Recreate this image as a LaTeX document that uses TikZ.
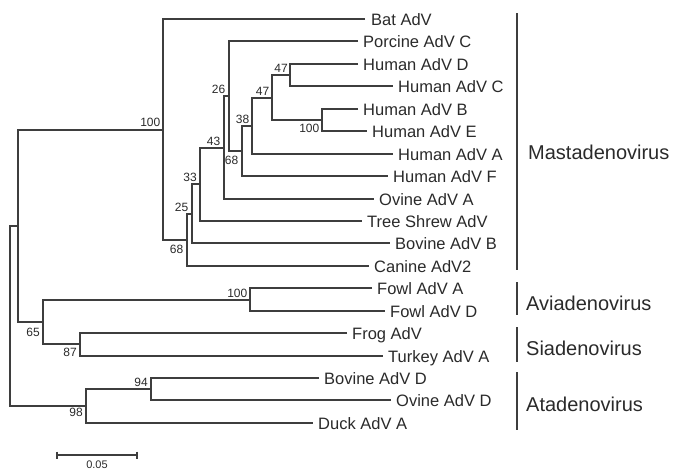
\documentclass[tikz,border=0pt]{standalone}
\usepackage{fontspec}
\setmainfont{Liberation Sans}
\definecolor{ln}{HTML}{3E3E3E}
\definecolor{tx}{HTML}{2A2A2A}
\begin{document}
\begin{tikzpicture}[x=1pt,y=-1pt,
  br/.style={draw=ln, line width=1.8pt},
  leaf/.style={font=\fontsize{16.5}{18}\selectfont, text=tx, inner sep=0pt, anchor=base west},
  bsa/.style={font=\fontsize{12}{13}\selectfont, text=tx, inner sep=0.5pt, anchor=south east},
  bsb/.style={font=\fontsize{12}{13}\selectfont, text=tx, inner sep=0.5pt, anchor=north east},
  grp/.style={font=\fontsize{20}{22}\selectfont, text=tx, inner sep=0pt, anchor=base west}]
\useasboundingbox (0,0) rectangle (674,469);
% leaf ends
\coordinate (bat) at (365,19);
\coordinate (porc) at (358,41);
\coordinate (hd) at (358,64);
\coordinate (hc) at (393,86);
\coordinate (hb) at (358,109);
\coordinate (he) at (367,131);
\coordinate (ha) at (393,154);
\coordinate (hf) at (388,176);
\coordinate (ova) at (374,199);
\coordinate (tree) at (362,221);
\coordinate (bovb) at (390,243);
\coordinate (can) at (369,266);
\coordinate (fwa) at (372,288);
\coordinate (fwd) at (385,311);
\coordinate (frog) at (347,333);
\coordinate (turk) at (383,356);
\coordinate (bovd) at (319,378);
\coordinate (ovd) at (391,400);
\coordinate (duck) at (313,423);
% internal nodes
\coordinate (nHbe) at (322,120);
\coordinate (nHdc) at (290,75);
\coordinate (nH47) at (272,98);
\coordinate (n38) at (252,126);
\coordinate (n68a) at (242,151);
\coordinate (n26) at (229,96);
\coordinate (n43) at (224,148);
\coordinate (n33) at (200,184);
\coordinate (n25) at (192,214);
\coordinate (n68b) at (187,240);
\coordinate (nMast) at (163,130);
\coordinate (nFowl) at (250,300);
\coordinate (nSia) at (80,344);
\coordinate (nAS) at (43,322);
\coordinate (nUp) at (18,226);
\coordinate (n94) at (151,389);
\coordinate (nAta) at (86,406);
\coordinate (root) at (10,316);
% branches
\draw[br] (hd) -| (nHdc) |- (hc);
\draw[br] (hb) -| (nHbe) |- (he);
\draw[br] (nHdc) -| (nH47) |- (nHbe);
\draw[br] (nH47) -| (n38) |- (ha);
\draw[br] (n38) -| (n68a) |- (hf);
\draw[br] (porc) -| (n26) |- (n68a);
\draw[br] (n26) -| (n43) |- (ova);
\draw[br] (n43) -| (n33) |- (tree);
\draw[br] (n33) -| (n25) |- (bovb);
\draw[br] (n25) -| (n68b) |- (can);
\draw[br] (bat) -| (nMast) |- (n68b);
\draw[br] (fwa) -| (nFowl) |- (fwd);
\draw[br] (frog) -| (nSia) |- (turk);
\draw[br] (nFowl) -| (nAS) |- (nSia);
\draw[br] (nMast) -| (nUp) |- (nAS);
\draw[br] (bovd) -| (n94) |- (ovd);
\draw[br] (n94) -| (nAta) |- (duck);
\draw[br] (nUp) -| (root) |- (nAta);
% bootstrap values
\node[bsa] (bMast) at ([shift={(-2pt,2.5pt)}]nMast) {100};
\node[bsa] (bHdc) at ([shift={(-1.5pt,2pt)}]nHdc) {47};
\node[bsa] (bH47) at ([shift={(-2pt,2pt)}]nH47) {47};
\node[bsb] (bHbe) at ([shift={(-2pt,-3pt)}]nHbe) {100};
\node[bsa] (b38) at ([shift={(-2pt,2pt)}]n38) {38};
\node[bsb] (b68a) at ([shift={(-3pt,-4.5pt)}]n68a) {68};
\node[bsa] (b26) at ([shift={(-3pt,2pt)}]n26) {26};
\node[bsa] (b43) at ([shift={(-3pt,2pt)}]n43) {43};
\node[bsa] (b33) at ([shift={(-2.5pt,2pt)}]n33) {33};
\node[bsa] (b25) at ([shift={(-3pt,2pt)}]n25) {25};
\node[bsb] (b68b) at ([shift={(-3pt,-4pt)}]n68b) {68};
\node[bsa] (bFowl) at ([shift={(-2pt,2pt)}]nFowl) {100};
\node[bsb] (bAS) at ([shift={(-2.5pt,-5pt)}]nAS) {65};
\node[bsb] (bSia) at ([shift={(-2.5pt,-3.5pt)}]nSia) {87};
\node[bsa] (b94) at ([shift={(-2.5pt,2pt)}]n94) {94};
\node[bsb] (bAta) at ([shift={(-2.5pt,-1pt)}]nAta) {98};
% leaf labels
\node[leaf] (lbat) at ([shift={(6pt,-6pt)}]bat) {Bat AdV};
\node[leaf] (lporc) at ([shift={(5pt,-6pt)}]porc) {Porcine AdV C};
\node[leaf] (lhd) at ([shift={(5pt,-6pt)}]hd) {Human AdV D};
\node[leaf] (lhc) at ([shift={(5pt,-6pt)}]hc) {Human AdV C};
\node[leaf] (lhb) at ([shift={(5pt,-6pt)}]hb) {Human AdV B};
\node[leaf] (lhe) at ([shift={(5pt,-6pt)}]he) {Human AdV E};
\node[leaf] (lha) at ([shift={(5pt,-6pt)}]ha) {Human AdV A};
\node[leaf] (lhf) at ([shift={(5pt,-6pt)}]hf) {Human AdV F};
\node[leaf] (lova) at ([shift={(5pt,-6pt)}]ova) {Ovine AdV A};
\node[leaf] (ltree) at ([shift={(5pt,-6pt)}]tree) {Tree Shrew AdV};
\node[leaf] (lbovb) at ([shift={(5pt,-6pt)}]bovb) {Bovine AdV B};
\node[leaf] (lcan) at ([shift={(5pt,-6pt)}]can) {Canine AdV2};
\node[leaf] (lfwa) at ([shift={(5pt,-6pt)}]fwa) {Fowl AdV A};
\node[leaf] (lfwd) at ([shift={(5pt,-6pt)}]fwd) {Fowl AdV D};
\node[leaf] (lfrog) at ([shift={(5pt,-6pt)}]frog) {Frog AdV};
\node[leaf] (lturk) at ([shift={(5pt,-6pt)}]turk) {Turkey AdV A};
\node[leaf] (lbovd) at ([shift={(5pt,-6pt)}]bovd) {Bovine AdV D};
\node[leaf] (lovd) at ([shift={(5pt,-6pt)}]ovd) {Ovine AdV D};
\node[leaf] (lduck) at ([shift={(5pt,-6pt)}]duck) {Duck AdV A};
% group bars and names
\coordinate (mT) at (517,13);
\coordinate (mB) at (517,270);
\coordinate (aT) at (517,282);
\coordinate (aB) at (517,315);
\coordinate (sT) at (517,327);
\coordinate (sB) at (517,362);
\coordinate (tT) at (517,372);
\coordinate (tB) at (517,430);
\draw[br] (mT) -- (mB);
\draw[br] (aT) -- (aB);
\draw[br] (sT) -- (sB);
\draw[br] (tT) -- (tB);
\node[grp] (gM) at (528,159) {Mastadenovirus};
\node[grp] (gA) at (526,310) {Aviadenovirus};
\node[grp] (gS) at (526,355) {Siadenovirus};
\node[grp] (gT) at (526,411) {Atadenovirus};
% scale bar
\coordinate (sL) at (57,455);
\coordinate (sR) at (137,455);
\draw[br, line width=1.4pt] (sL) -- (sR);
\draw[br, line width=1.4pt] ([yshift=3.5pt]sL) -- ([yshift=-3.5pt]sL);
\draw[br, line width=1.4pt] ([yshift=3.5pt]sR) -- ([yshift=-3.5pt]sR);
\node[font=\fontsize{11}{12}\selectfont, text=tx, inner sep=0pt, anchor=base] (sLab) at (97,468) {0.05};
\end{tikzpicture}
\end{document}
